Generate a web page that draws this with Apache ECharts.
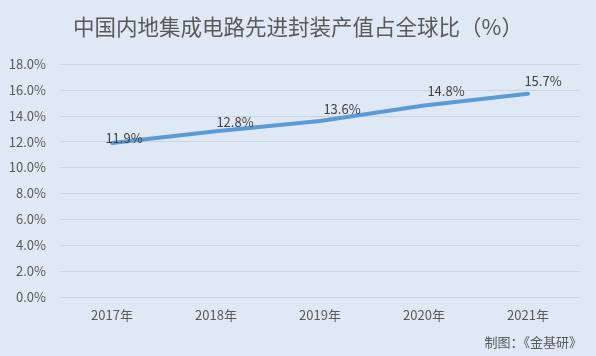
<!DOCTYPE html>
<html><head><meta charset="utf-8">
<script src="https://cdn.jsdelivr.net/npm/echarts@6/dist/echarts.min.js"></script>
<style>html,body{margin:0;padding:0;background:#dfe9f5;}#c{width:596px;height:356px;}</style>
</head><body><div id="c"></div>
<script>
const categories = ['2017年','2018年','2019年','2020年','2021年'];
const shareValues = [11.9, 12.8, 13.6, 14.8, 15.7];
const titleText = '中国内地集成电路先进封装产值占全球比（%）';
const sourceText = '制图：《金基研》';
// label nudges (style only), matching the reference's label placement
const labelNudges = [[12,2],[19,-2],[22,-5],[22,-7],[15,-6]];

const chart = echarts.init(document.getElementById('c'), null, {renderer:'canvas'});
const font = '"Microsoft YaHei","Noto Sans CJK SC","Noto Sans",sans-serif';
chart.setOption({
  backgroundColor: '#dfe9f5',
  animation: false,
  title: [{
    text: titleText, left: 'center', top: 11,
    textStyle: {color:'#595959', fontSize:21.5, fontWeight:'normal', fontFamily: font}
  },{
    text: sourceText, right: 9, bottom: 2,
    textStyle: {color:'#595959', fontSize:13, fontWeight:'normal', fontFamily: '"Noto Sans CJK SC",sans-serif'}
  }],
  grid: {left:60, right:16, top:64, bottom:59, containLabel:false},
  xAxis: {
    type:'category', data: categories, boundaryGap:true,
    axisLine:{show:false}, axisTick:{show:false},
    axisLabel:{color:'#595959', fontSize:13, margin:12, fontFamily: font}
  },
  yAxis: {
    type:'value', min:0, max:18, interval:2,
    axisLine:{show:false}, axisTick:{show:false},
    axisLabel:{color:'#595959', fontSize:13, margin:14, fontFamily: font,
      formatter: v => v.toFixed(1)+'%'},
    splitLine:{lineStyle:{color:'#d0d4d9', width:1}}
  },
  series: [{
    type:'line',
    data: shareValues,
    symbol:'circle', symbolSize:1, showSymbol:true,
    itemStyle:{color:'rgba(91,155,213,0)'},
    lineStyle:{color:'#5b9bd5', width:4, cap:'round'},
    label:{show:true, position:'top', distance:0, color:'#404040', fontSize:13, fontFamily: font,
      formatter: p => p.value.toFixed(1)+'%'},
    labelLayout: p => ({dx: labelNudges[p.dataIndex][0], dy: labelNudges[p.dataIndex][1], hideOverlap:false})
  }]
});
</script></body></html>
